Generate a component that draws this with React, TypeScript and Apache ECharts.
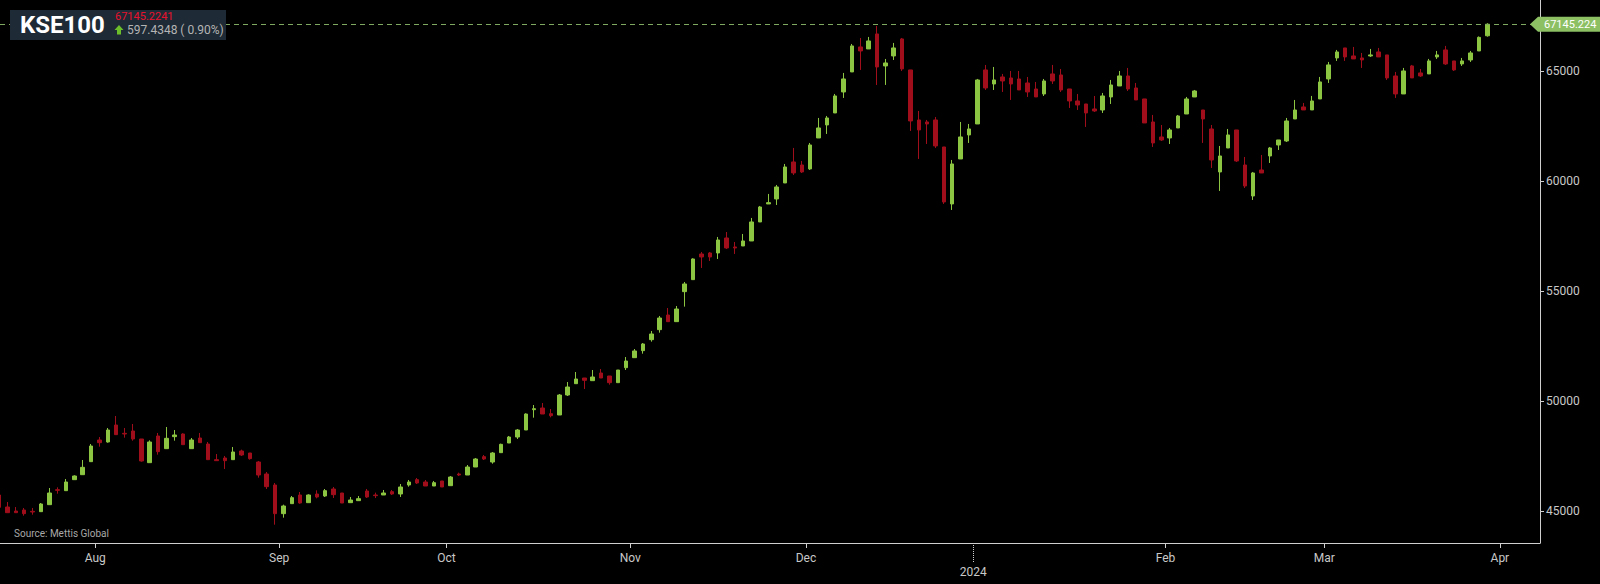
import React, { useEffect, useRef } from "react";
import * as echarts from "echarts";

// trading days shown on the axis (month -> days). The last days are axis room after the data.
const tradingDays: [string, number[]][] = [
  ["2023-07", [12, 13, 14, 17, 18, 19, 20, 21, 24, 25, 26, 31]],
  ["2023-08", [1, 2, 3, 4, 7, 8, 9, 10, 11, 15, 16, 17, 18, 21, 22, 23, 24, 25, 28, 29, 30, 31]],
  ["2023-09", [1, 4, 5, 6, 7, 8, 11, 12, 13, 14, 15, 18, 19, 20, 21, 22, 25, 26, 27, 28]],
  ["2023-10", [2, 3, 4, 5, 6, 9, 10, 11, 12, 13, 16, 17, 18, 19, 20, 23, 24, 25, 26, 27, 30, 31]],
  ["2023-11", [1, 2, 3, 6, 7, 8, 10, 13, 14, 15, 16, 17, 20, 21, 22, 23, 24, 27, 28, 29, 30]],
  ["2023-12", [1, 4, 5, 6, 7, 8, 11, 12, 13, 14, 15, 18, 19, 20, 21, 22, 26, 27, 28, 29]],
  ["2024-01", [1, 2, 3, 4, 5, 8, 9, 10, 11, 12, 15, 16, 17, 18, 19, 22, 23, 24, 25, 26, 29, 30, 31]],
  ["2024-02", [1, 2, 6, 7, 9, 12, 13, 14, 15, 16, 19, 20, 21, 22, 23, 26, 27, 28, 29]],
  ["2024-03", [1, 4, 5, 6, 7, 8, 11, 12, 13, 14, 15, 18, 19, 20, 21, 22, 25, 26, 27, 28, 29]],
  ["2024-04", [1, 2, 3, 4, 5]],
];

const monthNames = ["Jan", "Feb", "Mar", "Apr", "May", "Jun", "Jul", "Aug", "Sep", "Oct", "Nov", "Dec"];

const opens = [
  45737, 45191, 45009, 45055, 44994, 44979, 45297, 45979, 45934, 46434, 46661, 47253,
  48238, 48147, 48920, 48541, 48648, 48284, 47207, 48420, 47844, 48390, 48511, 47844, 48329, 48056, 47344, 47420, 47344, 47738, 47647, 47238, 46692, 46192,
  44888, 45343, 45737, 45388, 45782, 45692, 46010, 45828, 45388, 45479, 45919, 45737, 45737, 45889, 45783, 46192, 46434, 46328, 46146, 46374,
  46161, 46692, 46646, 47010, 47480, 47237, 47662, 48101, 48374, 48693, 49617, 49693, 49435, 49375, 50284, 50799, 51057, 50936, 51285, 51148, 50845, 51527,
  51982, 52301, 52801, 53256, 53923, 53620, 54984, 55530, 56697, 56743, 56743, 57425, 57016, 57062, 57289, 58153, 58972, 59199, 59927, 60882, 60745,
  60564, 61973, 62565, 63110, 64065, 64975, 66112, 66021, 66703, 65248, 65703, 66476, 65066, 62792, 62701, 62792, 61564, 58972, 61018, 62110,
  62610, 65066, 64429, 64747, 64702, 64656, 64474, 64201, 63974, 64884, 64838, 64201, 63656, 63519, 63292, 63246, 63838, 64338, 64793, 64247, 63747, 62701, 62019,
  61973, 62428, 63064, 63838, 63246, 62382, 60427, 61518, 62337, 60745, 59335, 60518, 61154, 61655, 61837, 62837, 63384, 63247, 63747,
  64657, 65612, 66067, 65703, 65612, 65703, 65885, 65749, 64793, 63975, 65248, 64930, 64885, 65658, 65976, 65476, 65339, 65521, 65930, 66620,
];
const closes = [
  45176, 44933, 44933, 44888, 44964, 45328, 45828, 45949, 46328, 46601, 46995, 47965,
  48117, 48693, 48481, 48511, 48284, 47283, 48147, 47708, 48314, 48466, 48026, 48238, 48117, 47344, 47298, 47298, 47693, 47556, 47389, 46647, 46116, 44888,
  45237, 45616, 45373, 45737, 45646, 45934, 45752, 45373, 45510, 45570, 45646, 45707, 45828, 45783, 46101, 46328, 46283, 46146, 46298, 46101,
  46555, 46646, 47010, 47374, 47374, 47647, 48041, 48374, 48693, 49420, 49662, 49420, 49344, 50284, 50648, 51012, 50951, 51103, 51057, 50845, 51421, 51830,
  52286, 52604, 53059, 53786, 53620, 54195, 55333, 56470, 56561, 56561, 57334, 56971, 56971, 57289, 58153, 58835, 59032, 59745, 60654, 60382, 60427,
  61655, 62428, 62883, 63884, 64657, 66158, 65930, 66385, 65202, 65384, 66067, 65112, 62747, 62337, 62610, 61610, 59063, 60791, 62019, 62383,
  64611, 64247, 64611, 64565, 64429, 64156, 64065, 63838, 64565, 64565, 64156, 63656, 63474, 63110, 63201, 63883, 64383, 64793, 64201, 63701, 62655, 61746, 61882,
  62337, 62974, 63747, 64110, 62837, 60972, 61154, 62110, 60927, 59790, 60381, 60381, 61518, 61882, 62746, 63246, 63247, 63656, 64521,
  65294, 65885, 65658, 65567, 65521, 65749, 65658, 64703, 63975, 65021, 64703, 64793, 65476, 65749, 65339, 65067, 65476, 65839, 66547.79, 67145.2241,
];
const lows = [
  45170, 44930, 44933, 44797, 44842, 44979, 45297, 45797, 45934, 46434, 46661, 47253,
  47935, 48117, 48481, 48344, 48208, 47253, 47207, 47571, 47844, 48208, 48026, 47844, 48117, 47344, 47298, 46920, 47344, 47511, 47344, 46525, 46010, 44388,
  44706, 45343, 45343, 45388, 45585, 45646, 45601, 45373, 45388, 45479, 45601, 45601, 45737, 45737, 45646, 46116, 46237, 46146, 46146, 46101,
  46161, 46600, 46646, 47010, 47328, 47161, 47662, 48101, 48283, 48693, 49253, 49420, 49268, 49375, 50239, 50799, 50557, 50936, 51057, 50754, 50845, 51421,
  51982, 52164, 52710, 53119, 53620, 53620, 54302, 55530, 56061, 56379, 56470, 56925, 56698, 57062, 57289, 58153, 58972, 58926, 59927, 60291, 60382,
  60518, 61973, 62155, 63110, 63793, 64975, 65066, 66021, 64384, 64384, 65521, 65021, 62292, 61018, 61700, 61519, 58972, 58699, 61018, 61746,
  62610, 64156, 64156, 64065, 63701, 64156, 63838, 63838, 63883, 64429, 64065, 63337, 63246, 62473, 63155, 63110, 63519, 64338, 64110, 63701, 62655, 61564, 61837,
  61700, 62428, 63064, 63838, 61746, 60608, 59563, 61518, 60881, 59699, 59153, 60381, 60836, 61427, 61791, 62837, 63247, 63247, 63747,
  64475, 65476, 65476, 65567, 65157, 65658, 65658, 64612, 63793, 63975, 64703, 64748, 64885, 65567, 65294, 65021, 65248, 65430, 65930, 66580,
];
const highs = [
  45760, 45418, 45191, 45146, 45146, 45373, 46055, 46085, 46465, 46631, 47329, 48056,
  48375, 48784, 49330, 48784, 48966, 48284, 48223, 48557, 48829, 48693, 48541, 48329, 48557, 48147, 47602, 47511, 47920, 47799, 47647, 47283, 46783, 46283,
  45297, 45692, 45873, 45767, 45949, 46010, 46101, 45828, 45646, 45692, 46010, 45843, 45964, 45964, 46237, 46419, 46510, 46419, 46374, 46374,
  46600, 46752, 47101, 47420, 47556, 47692, 48071, 48420, 48738, 49450, 49829, 49920, 49647, 50329, 50875, 51330, 51057, 51421, 51466, 51148, 51421, 52012,
  52376, 52649, 53195, 53877, 54241, 54332, 55424, 56500, 56788, 56788, 57471, 57698, 57244, 57607, 58335, 58881, 59427, 59836, 60791, 61519, 60927,
  61746, 62883, 62974, 63975, 64930, 66248, 66521, 66567, 67067, 65566, 66294, 66521, 65066, 63201, 62792, 62928, 61564, 60973, 62701, 62610,
  64657, 65293, 65202, 64884, 65020, 65020, 64747, 64520, 64656, 65293, 65111, 64201, 63974, 63519, 63883, 64020, 64611, 65020, 65157, 64474, 63747, 63019, 62564,
  62428, 63019, 63838, 64156, 63246, 62564, 61609, 62382, 62337, 61109, 60427, 61200, 61564, 61882, 62883, 63701, 63565, 63884, 64748,
  65430, 65976, 66067, 66112, 65839, 66021, 66067, 65749, 64975, 65158, 65294, 65112, 65567, 65930, 66158, 65476, 65612, 65930, 66590, 67190,
];

const yTicks = [45000, 50000, 55000, 60000, 65000];
const title = "KSE100";
const lastValueText = "67145.2241";
const tagText = "67145.224";
const changeText = "597.4348 ( 0.90%)";
const sourceText = "Source: Mettis Global";

const UP = "#8cc541";
const DOWN = "#a00d1b";
const AXIS = "#cfcfcf";

export default function App() {
  const ref = useRef<HTMLDivElement>(null);

  useEffect(() => {
    const el = ref.current;
    if (!el) return;
    const chart = echarts.init(el, null, { renderer: "svg" });

    const dates: { y: number; m: number; d: number }[] = [];
    tradingDays.forEach(([ym, days]) => {
      const [y, m] = ym.split("-").map(Number);
      days.forEach((d) => dates.push({ y, m, d }));
    });

    // month boundaries (tick sits half a slot before the first trading day of a month)
    const monthTicks: number[] = [];
    let janTick = -1;
    for (let i = 1; i < dates.length; i++) {
      if (dates[i].m !== dates[i - 1].m) {
        if (dates[i].m === 1) janTick = i - 0.5;
        else monthTicks.push(i - 0.5);
      }
    }
    const allLabelTicks = [...monthTicks, janTick].sort((a, b) => a - b);

    const candles = opens.map((o, i) => [i, o, closes[i], lows[i], highs[i]]);
    const lastClose = closes[closes.length - 1];

    const xMin = 0.104;
    const xMax = 184.3;

    const option: any = {
      animation: false,
      backgroundColor: "#000",
      textStyle: { fontFamily: "Roboto" },
      grid: { left: 0, right: 60, top: 0, bottom: 41, containLabel: false, outerBoundsMode: "none" },
      xAxis: [
        {
          type: "value",
          min: xMin,
          max: xMax,
          position: "bottom",
          axisLine: { show: true, onZero: false, lineStyle: { color: AXIS, width: 1 } },
          axisTick: { show: true, length: 5, customValues: monthTicks, lineStyle: { color: AXIS } },
          splitLine: { show: false },
          axisLabel: {
            show: true,
            customValues: allLabelTicks,
            color: "#c8c8c8",
            fontSize: 12,
            fontFamily: "Roboto",
            margin: 8,
            lineHeight: 14,
            formatter: (v: number) => {
              const dt = dates[Math.round(v + 0.5)];
              if (!dt) return "";
              if (dt.m === 1) return "\n" + dt.y;
              return monthNames[dt.m - 1];
            },
          },
        },
        {
          type: "value",
          min: xMin,
          max: xMax,
          position: "bottom",
          axisLine: { show: false, onZero: false },
          axisLabel: { show: false },
          splitLine: { show: false },
          axisTick: {
            show: true,
            length: 19,
            customValues: [janTick],
            lineStyle: { color: AXIS, type: "dotted", width: 1 },
          },
        },
      ],
      yAxis: {
        type: "value",
        position: "right",
        min: 43554,
        max: 68247,
        axisLine: { show: true, onZero: false, lineStyle: { color: AXIS, width: 1 } },
        axisTick: { show: true, length: 4, customValues: yTicks, lineStyle: { color: AXIS } },
        splitLine: { show: false },
        axisLabel: {
          show: true,
          customValues: yTicks,
          color: "#c8c8c8",
          fontSize: 12,
          fontFamily: "Roboto",
          margin: 6,
          formatter: (v: number) => String(v),
        },
      },
      series: [
        {
          type: "candlestick",
          xAxisIndex: 0,
          yAxisIndex: 0,
          data: candles,
          encode: { x: 0, y: [1, 2, 3, 4] },
          barWidth: 4,
          clip: true,
          itemStyle: {
            color: UP,
            color0: DOWN,
            borderColor: UP,
            borderColor0: DOWN,
            borderColorDoji: DOWN,
            borderWidth: 1,
          },
          markLine: {
            silent: true,
            symbol: ["none", "none"],
            label: { show: false },
            lineStyle: { color: "#7fa860", type: [5, 4], width: 1 },
            data: [{ yAxis: lastClose }],
          },
        },
      ],
    };
    chart.setOption(option);

    const yTag = chart.convertToPixel({ yAxisIndex: 0 }, lastClose) as number;

    chart.setOption({
      graphic: [
        { type: "rect", z: 100, shape: { x: 10, y: 10, width: 216, height: 30 }, style: { fill: "#1e2a35" } },
        {
          type: "text",
          z: 101,
          x: 20,
          y: 25,
          style: { text: title, fill: "#ffffff", font: "bold 24px Roboto", verticalAlign: "middle", align: "left" },
        },
        {
          type: "text",
          z: 101,
          x: 115,
          y: 16.5,
          style: { text: lastValueText, fill: "#e8112d", font: "11px Roboto", verticalAlign: "middle", align: "left" },
        },
        {
          type: "polygon",
          z: 101,
          shape: {
            points: [
              [119, 25],
              [123.5, 30],
              [121, 30],
              [121, 34.5],
              [117, 34.5],
              [117, 30],
              [114.5, 30],
            ],
          },
          style: { fill: "#6cbf2a" },
        },
        {
          type: "text",
          z: 101,
          x: 127,
          y: 30,
          style: { text: changeText, fill: "#b4b4b4", font: "12px Roboto", verticalAlign: "middle", align: "left" },
        },
        {
          type: "text",
          z: 101,
          x: 14,
          y: 533,
          style: { text: sourceText, fill: "#a8a8a8", font: "10px Roboto", verticalAlign: "middle", align: "left" },
        },
        {
          type: "polygon",
          z: 101,
          shape: {
            points: [
              [1530, yTag],
              [1538, yTag - 7.5],
              [1600, yTag - 7.5],
              [1600, yTag + 7.5],
              [1538, yTag + 7.5],
            ],
          },
          style: { fill: "#8cc063" },
        },
        {
          type: "text",
          z: 102,
          x: 1544,
          y: yTag,
          style: { text: tagText, fill: "#ffffff", font: "11px Roboto", verticalAlign: "middle", align: "left" },
        },
      ],
    });

    return () => chart.dispose();
  }, []);

  return (
    <div
      ref={ref}
      style={{ position: "fixed", left: 0, top: 0, width: 1600, height: 584, background: "#000" }}
    />
  );
}
